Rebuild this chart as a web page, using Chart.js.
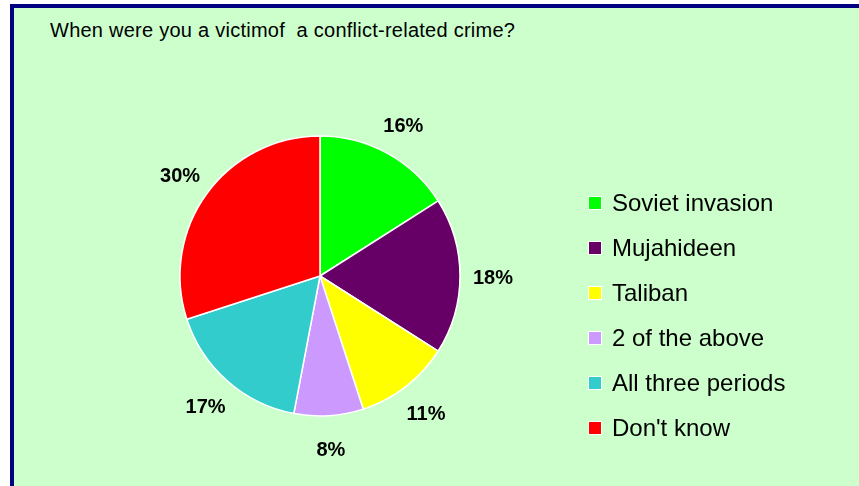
<!DOCTYPE html>
<html>
<head>
<meta charset="utf-8">
<script src="https://cdn.jsdelivr.net/npm/chart.js@4"></script>
<style>
  html, body { margin: 0; padding: 0; background: #ffffff; overflow: hidden; }
  #frame {
    position: absolute; left: 10px; top: 4px; width: 900px; height: 520px;
    background: #ccffcc; border-left: 4px solid #000080; border-top: 4px solid #000080;
  }
  #title {
    position: absolute; left: 50px; top: 20px; white-space: pre; line-height: 20px;
    font-family: "Liberation Sans", Arial, sans-serif; font-size: 20px;
    letter-spacing: 0.25px; color: #000;
  }
  #chart { position: absolute; left: 0; top: 0; }
</style>
</head>
<body>
<div id="frame"></div>
<div id="title">When were you a victimof  a conflict-related crime?</div>
<canvas id="chart" width="859" height="486"></canvas>
<script>
const categories = ["Soviet invasion", "Mujahideen", "Taliban", "2 of the above", "All three periods", "Don't know"];
const values = [16, 18, 11, 8, 17, 30];
const colors = ["#00ff00", "#660066", "#ffff00", "#cc99ff", "#33cccc", "#ff0000"];

// slice labels and legend drawn on top of the pie
const extrasPlugin = {
  id: "extras",
  afterDraw(chart) {
    const ctx = chart.ctx;
    const arcs = chart.getDatasetMeta(0).data;
    ctx.save();
    ctx.fillStyle = "#000";
    ctx.font = "bold 20px 'Liberation Sans', Arial, sans-serif";
    ctx.textAlign = "center";
    ctx.textBaseline = "middle";
    arcs.forEach((arc, i) => {
      const mid = (arc.startAngle + arc.endAngle) / 2;
      const r = arc.outerRadius + 33;
      ctx.fillText(values[i] + "%", arc.x + Math.cos(mid) * r, arc.y + Math.sin(mid) * r + 2);
    });

    ctx.font = "24px 'Liberation Sans', Arial, sans-serif";
    ctx.textAlign = "left";
    categories.forEach((label, i) => {
      const y = 203 + i * 45;
      ctx.fillStyle = colors[i];
      ctx.fillRect(589, y - 6, 12, 12);
      ctx.strokeStyle = "#ffffff";
      ctx.lineWidth = 1;
      ctx.strokeRect(588.5, y - 6.5, 13, 13);
      ctx.fillStyle = "#000";
      ctx.fillText(label, 612, y + 1);
    });
    ctx.restore();
  },
};

new Chart(document.getElementById("chart"), {
  type: "pie",
  data: {
    labels: categories,
    datasets: [
      {
        data: values,
        backgroundColor: colors,
        borderColor: "#ffffff",
        borderWidth: 1.5,
      },
    ],
  },
  options: {
    responsive: false,
    animation: false,
    radius: 140,
    layout: { padding: { left: 170, right: 389, top: 126, bottom: 60 } },
    plugins: {
      legend: { display: false },
      tooltip: { enabled: false },
    },
  },
  plugins: [extrasPlugin],
});
</script>
</body>
</html>
